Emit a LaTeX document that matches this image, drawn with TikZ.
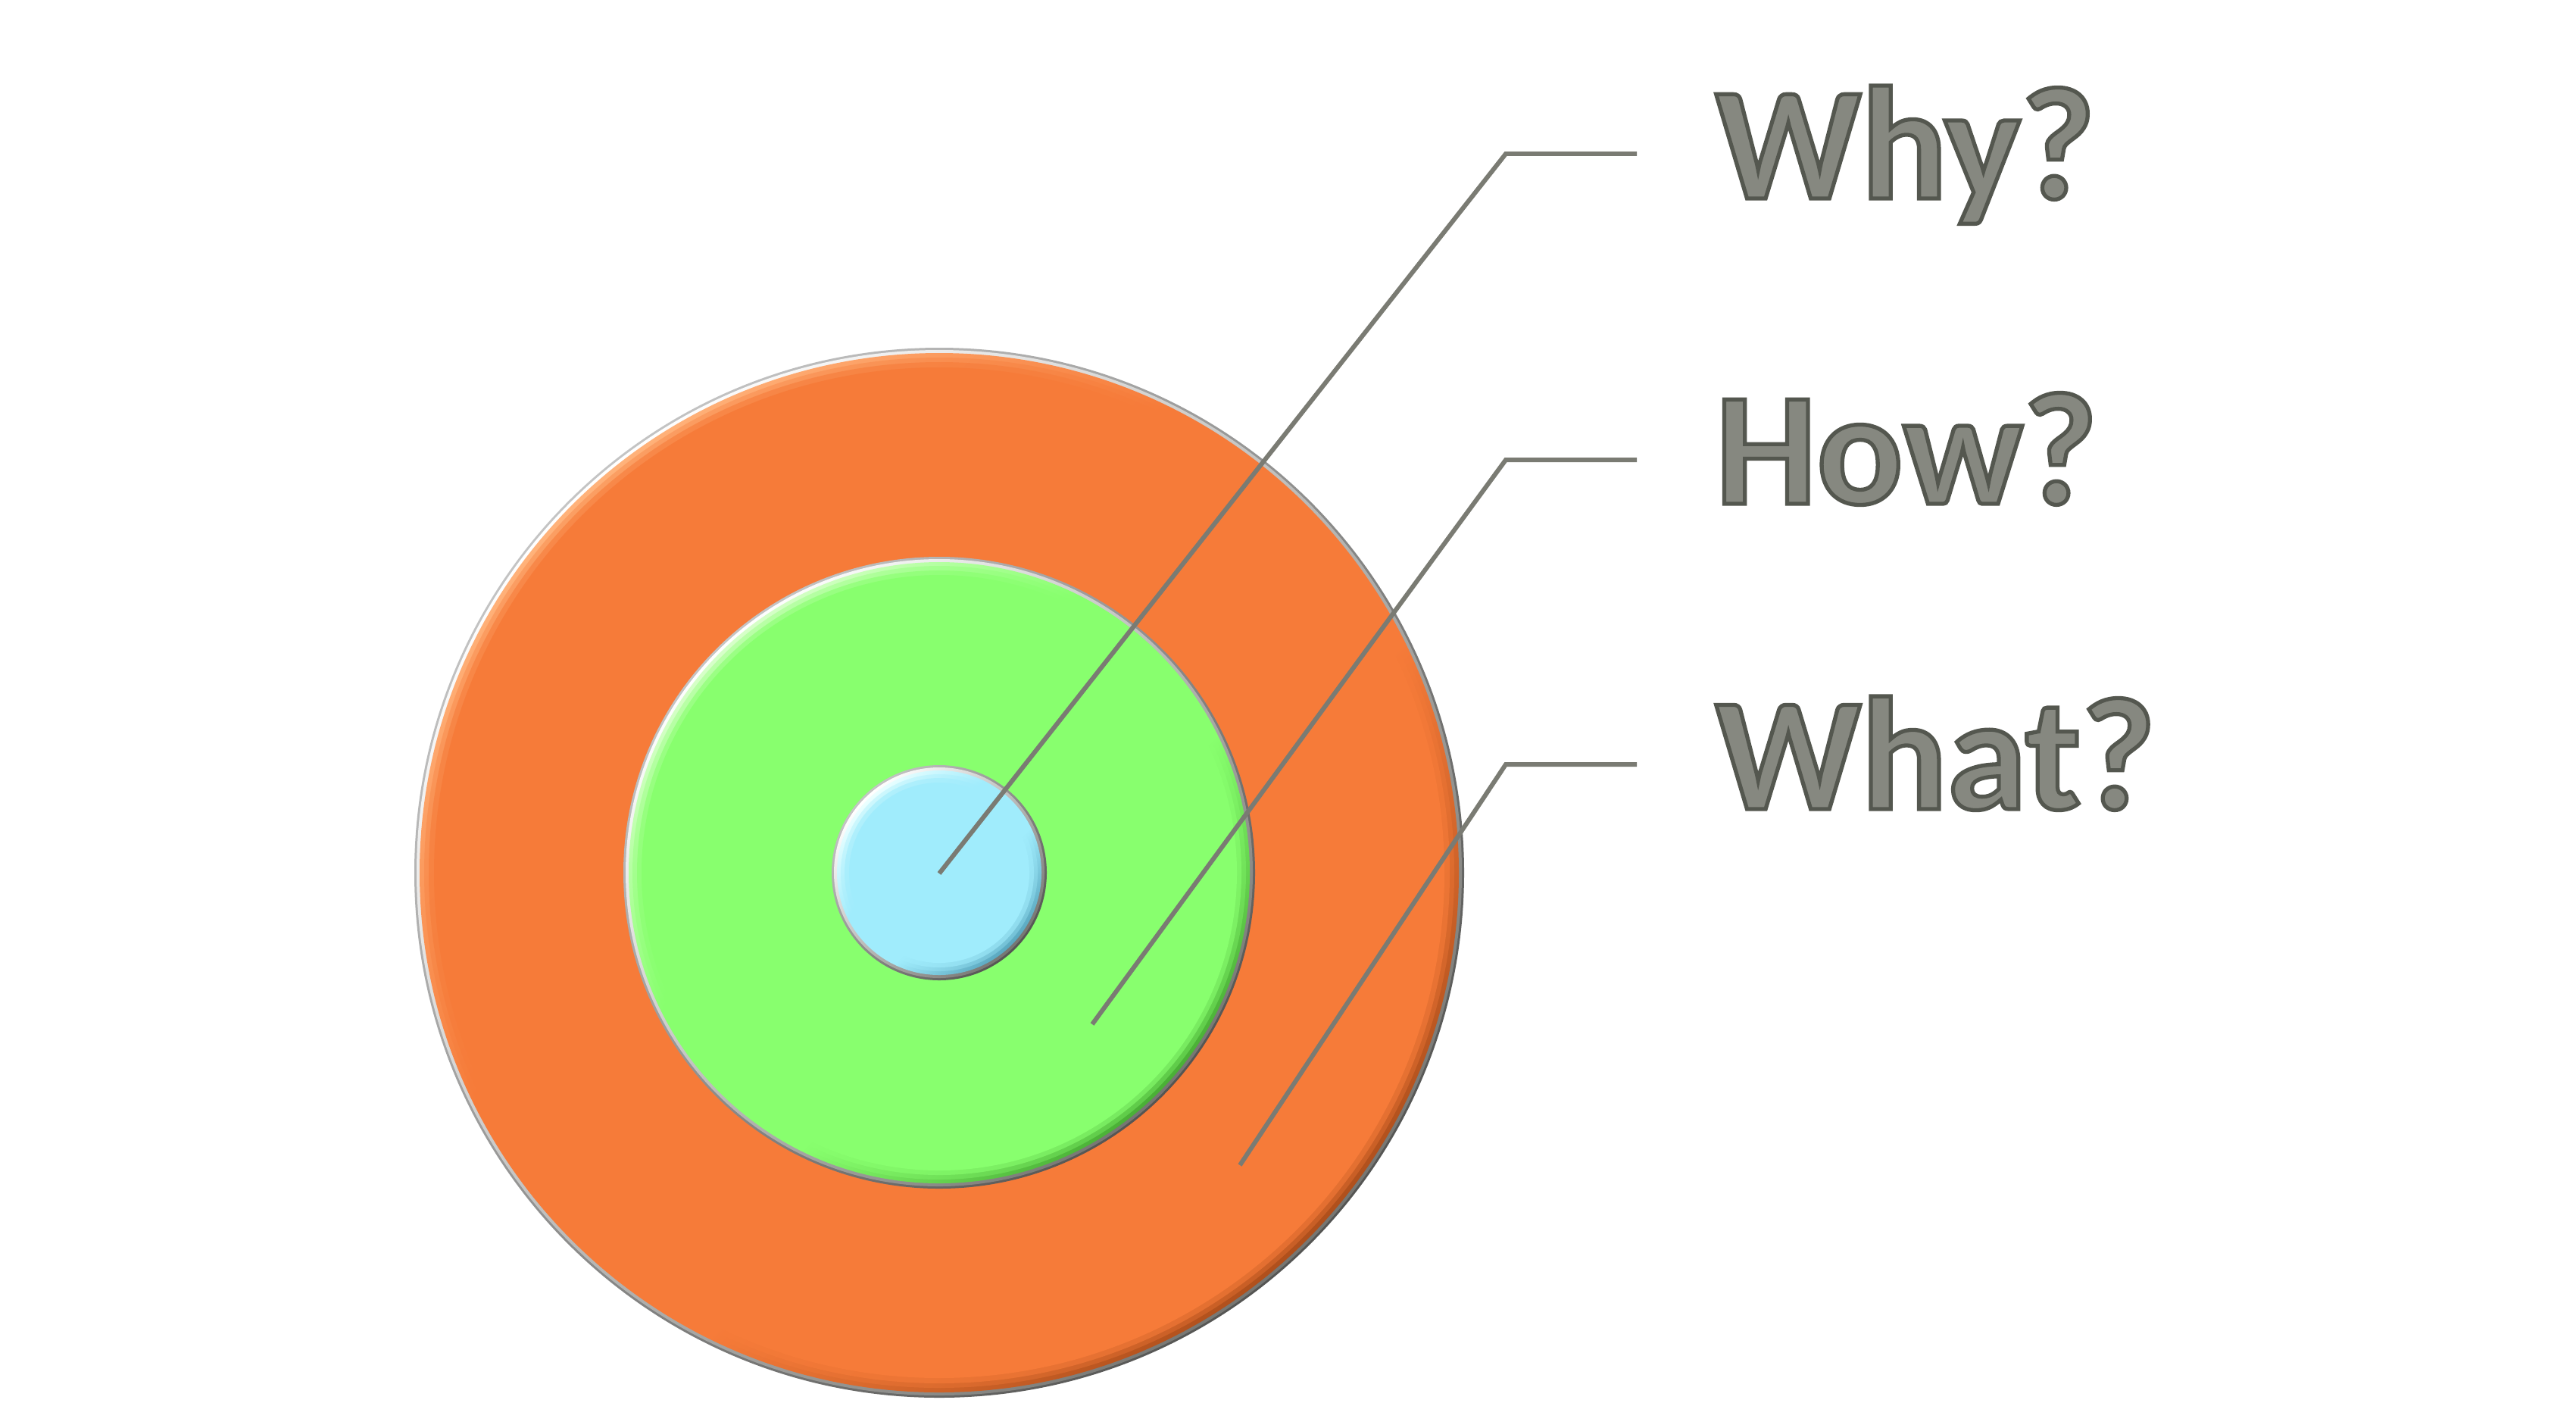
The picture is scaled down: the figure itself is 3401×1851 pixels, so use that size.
\documentclass[tikz,border=0pt]{standalone}
\usepackage{fontspec}
\setmainfont{Carlito}
\definecolor{orangeB}{HTML}{F67B39}
\definecolor{orangeL}{HTML}{FFB27A}
\definecolor{orangeD}{HTML}{B0501C}
\definecolor{greenB}{HTML}{88FF6E}
\definecolor{greenL}{HTML}{D6FFC8}
\definecolor{greenD}{HTML}{4AB036}
\definecolor{blueB}{HTML}{A0ECFC}
\definecolor{blueL}{HTML}{EAFFFF}
\definecolor{blueD}{HTML}{5AA8C0}
\definecolor{rimAL}{HTML}{C4C4C4}
\definecolor{rimAD}{HTML}{555553}
\definecolor{rimBL}{HTML}{FFFFFF}
\definecolor{rimBD}{HTML}{767672}
\definecolor{linegray}{HTML}{7A7B73}
\definecolor{txtgray}{HTML}{868880}
\pgfdeclareverticalshading{rimA}{100bp}{color(0bp)=(rimAD); color(25bp)=(rimAD); color(75bp)=(rimAL); color(100bp)=(rimAL)}
\pgfdeclareverticalshading{rimB}{100bp}{color(0bp)=(rimBD); color(25bp)=(rimBD); color(75bp)=(rimBL); color(100bp)=(rimBL)}
\pgfdeclareverticalshading{bevO}{100bp}{color(0bp)=(orangeD); color(25bp)=(orangeD); color(42bp)=(orangeB); color(58bp)=(orangeB); color(75bp)=(orangeL); color(100bp)=(orangeL)}
\pgfdeclareverticalshading{bevG}{100bp}{color(0bp)=(greenD); color(25bp)=(greenD); color(42bp)=(greenB); color(58bp)=(greenB); color(75bp)=(greenL); color(100bp)=(greenL)}
\pgfdeclareverticalshading{bevB}{100bp}{color(0bp)=(blueD); color(25bp)=(blueD); color(42bp)=(blueB); color(58bp)=(blueB); color(75bp)=(blueL); color(100bp)=(blueL)}
\newcommand{\embossed}[1]{\special{pdf:literal direct 2 Tr 1.5 w 0.33 0.34 0.31 RG}#1\special{pdf:literal direct 0 Tr}}
\begin{document}
\begin{tikzpicture}[x=0.01cm,y=-0.01cm,
  conn/.style={draw=linegray, line width=1.7pt, line join=miter, line cap=butt},
  lbl/.style={inner sep=0pt, anchor=base west, text=txtgray,
    font=\bfseries\fontsize{60.35pt}{70pt}\selectfont}]
\useasboundingbox (0,0) rectangle (3401,1851);
\fill[white] (0,0) rectangle (3401,1851);
\coordinate (c) at (1240,1152);
% outer ring (What)
\shade[shading=rimA, shading angle=45] (c) circle (693);
\shade[shading=rimB, shading angle=45] (c) circle (690);
\shade[shading=bevO, shading angle=45] (c) circle (686);
\fill[orangeB, opacity=.35] (c) circle (680);
\fill[orangeB, opacity=.6] (c) circle (674);
\fill[orangeB] (c) circle (667);
% middle disc (How)
\shade[shading=rimA, shading angle=45] (c) circle (417);
\shade[shading=rimB, shading angle=45] (c) circle (414);
\shade[shading=bevG, shading angle=45] (c) circle (410);
\fill[greenB, opacity=.35] (c) circle (405);
\fill[greenB, opacity=.6] (c) circle (399);
\fill[greenB] (c) circle (393);
% inner disc (Why)
\shade[shading=rimA, shading angle=45] (c) circle (142);
\shade[shading=rimB, shading angle=45] (c) circle (139);
\shade[shading=bevB, shading angle=45] (c) circle (135);
\fill[blueB, opacity=.35] (c) circle (130);
\fill[blueB, opacity=.6] (c) circle (125);
\fill[blueB] (c) circle (119);
% connector points
\coordinate (whyS) at (1240,1153);
\coordinate (whyK) at (1988,203);
\coordinate (whyE) at (2161,203);
\coordinate (howS) at (1442,1352);
\coordinate (howK) at (1988,607);
\coordinate (howE) at (2161,607);
\coordinate (whatS) at (1637,1538);
\coordinate (whatK) at (1988,1009);
\coordinate (whatE) at (2161,1009);
\draw[conn] (whyS) -- (whyK) -- (whyE);
\draw[conn] (howS) -- (howK) -- (howE);
\draw[conn] (whatS) -- (whatK) -- (whatE);
% labels
\node[lbl] (why) at (2264,262) {\embossed{Why?}};
\node[lbl] (how) at (2264,665) {\embossed{How?}};
\node[lbl] (what) at (2264,1068) {\embossed{What?}};
\end{tikzpicture}
\end{document}
